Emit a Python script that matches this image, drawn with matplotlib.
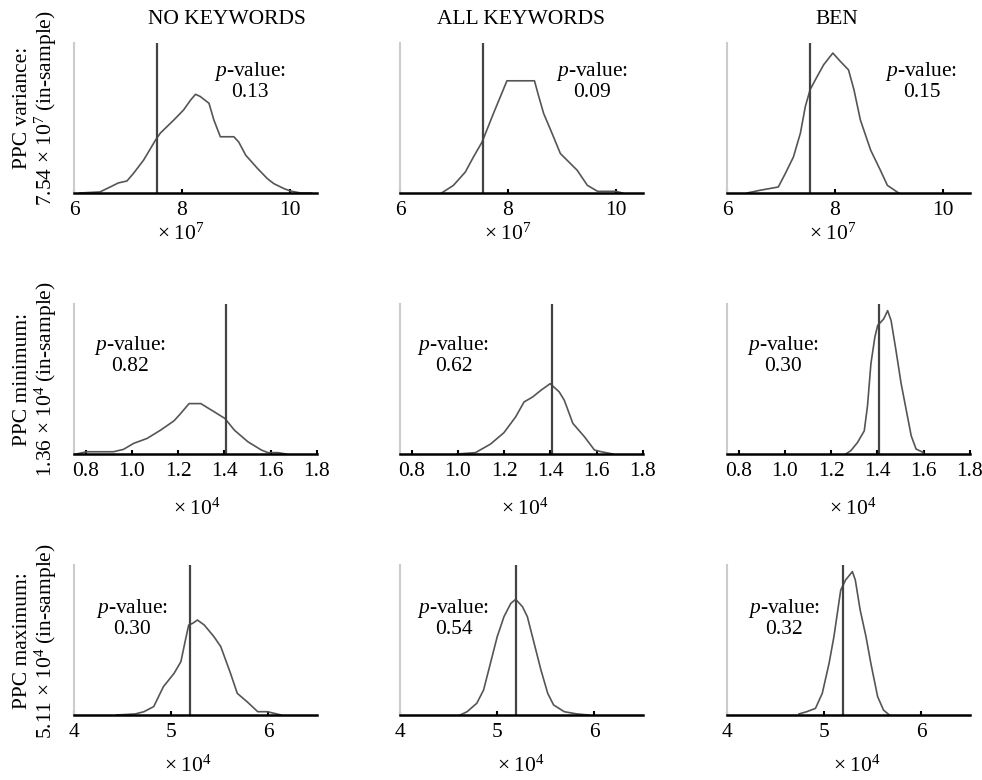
import numpy as np
import matplotlib
matplotlib.use("Agg")
import matplotlib.pyplot as plt

plt.rcParams["font.family"] = ["Liberation Serif", "DejaVu Serif"]
plt.rcParams["mathtext.fontset"] = "custom"
plt.rcParams["mathtext.rm"] = "Liberation Serif"
plt.rcParams["mathtext.it"] = "Liberation Serif:italic"

COLUMNS = ["NO KEYWORDS", "ALL KEYWORDS", "BEN"]
ROW_LABELS = [
    "PPC variance:\n7.54 × $10^{7}$ (in-sample)",
    "PPC minimum:\n1.36 × $10^{4}$ (in-sample)",
    "PPC maximum:\n5.11 × $10^{4}$ (in-sample)",
]
SCALE_LABELS = [r"$\times\;10^{7}$", r"$\times\;10^{4}$", r"$\times\;10^{4}$"]
XLIMS = [(6, 10.5), (0.75, 1.8), (4, 6.5)]
XTICKS = [[6, 8, 10], [0.8, 1.0, 1.2, 1.4, 1.6, 1.8], [4, 5, 6]]
XFMT = ["{:.0f}", "{:.1f}", "{:.0f}"]
OBSERVED = [7.54, 1.405, 5.19]

P_VALUES = [["0.13", "0.09", "0.15"],
            ["0.82", "0.62", "0.30"],
            ["0.30", "0.54", "0.32"]]

# posterior predictive distributions (x, relative density)
var_no_x = [6.1, 6.48, 6.67, 6.82, 6.98, 7.10, 7.29, 7.51, 7.60, 7.85, 8.03, 8.16, 8.25,
            8.34, 8.50, 8.59, 8.71, 8.96, 9.05, 9.18, 9.40, 9.58, 9.70, 9.89, 10.01, 10.20, 10.4]
var_no_y = [0.0, 0.007, 0.04, 0.067, 0.08, 0.13, 0.22, 0.353, 0.40, 0.487, 0.554, 0.62, 0.658,
            0.643, 0.598, 0.487, 0.375, 0.375, 0.34, 0.252, 0.163, 0.096, 0.0625, 0.029, 0.013, 0.0, 0.0]
var_all_x = [6.77, 6.99, 7.21, 7.36, 7.52, 7.73, 7.86, 7.98, 8.49, 8.57, 8.66, 8.79, 8.97,
             9.28, 9.47, 9.66, 10.0, 10.12]
var_all_y = [0.0, 0.051, 0.14, 0.24, 0.34, 0.53, 0.643, 0.748, 0.748, 0.643, 0.53, 0.42, 0.263,
             0.152, 0.051, 0.011, 0.011, 0.0]
var_ben_x = [6.37, 6.61, 6.95, 7.08, 7.23, 7.36, 7.45, 7.54, 7.67, 7.79, 7.96, 8.10, 8.25,
             8.35, 8.47, 8.66, 8.84, 8.97, 9.15, 9.18]
var_ben_y = [0.0, 0.018, 0.04, 0.13, 0.24, 0.40, 0.576, 0.69, 0.777, 0.855, 0.933, 0.877, 0.821,
             0.69, 0.487, 0.286, 0.152, 0.051, 0.007, 0.0]

min_no_x = [0.76, 0.805, 0.863, 0.921, 0.964, 1.008, 1.066, 1.124, 1.182, 1.211, 1.247, 1.298,
            1.356, 1.402, 1.443, 1.501, 1.559, 1.588, 1.631, 1.667]
min_no_y = [0.0, 0.015, 0.015, 0.015, 0.031, 0.071, 0.104, 0.159, 0.221, 0.27, 0.336, 0.336,
            0.281, 0.237, 0.159, 0.082, 0.027, 0.009, 0.009, 0.0]
min_all_x = [0.996, 1.076, 1.141, 1.199, 1.25, 1.286, 1.323, 1.359, 1.399, 1.438, 1.46, 1.497,
             1.547, 1.59, 1.62, 1.67]
min_all_y = [0.0, 0.009, 0.066, 0.142, 0.248, 0.347, 0.38, 0.425, 0.469, 0.414, 0.358, 0.204,
             0.115, 0.027, 0.015, 0.0]
min_ben_x = [1.263, 1.285, 1.314, 1.343, 1.357, 1.372, 1.389, 1.401, 1.427, 1.444, 1.459, 1.48,
             1.502, 1.524, 1.546, 1.567, 1.597, 1.60]
min_ben_y = [0.0, 0.022, 0.077, 0.154, 0.319, 0.604, 0.78, 0.857, 0.9, 0.956, 0.89, 0.692,
             0.473, 0.297, 0.121, 0.033, 0.011, 0.0]

max_no_x = [4.44, 4.63, 4.72, 4.82, 4.92, 5.03, 5.10, 5.15, 5.18, 5.22, 5.27, 5.34, 5.44, 5.51,
            5.61, 5.68, 5.78, 5.89, 5.99, 6.13]
max_no_y = [0.0, 0.007, 0.022, 0.056, 0.189, 0.278, 0.356, 0.511, 0.60, 0.611, 0.633, 0.60,
            0.522, 0.456, 0.278, 0.144, 0.089, 0.022, 0.022, 0.0]
max_all_x = [4.62, 4.69, 4.79, 4.86, 4.93, 5.0, 5.07, 5.14, 5.19, 5.26, 5.31, 5.38, 5.45, 5.52,
             5.58, 5.69, 5.82, 5.94]
max_all_y = [0.0, 0.022, 0.078, 0.167, 0.344, 0.522, 0.656, 0.744, 0.771, 0.722, 0.656, 0.478,
             0.30, 0.144, 0.067, 0.022, 0.007, 0.0]
max_ben_x = [4.74, 4.82, 4.91, 4.98, 5.05, 5.10, 5.17, 5.22, 5.29, 5.32, 5.37, 5.43, 5.48, 5.55,
             5.61, 5.67]
max_ben_y = [0.007, 0.022, 0.044, 0.144, 0.344, 0.522, 0.833, 0.90, 0.956, 0.90, 0.70, 0.522,
             0.344, 0.122, 0.033, 0.0]

CURVES = [
    [(var_no_x, var_no_y), (var_all_x, var_all_y), (var_ben_x, var_ben_y)],
    [(min_no_x, min_no_y), (min_all_x, min_all_y), (min_ben_x, min_ben_y)],
    [(max_no_x, max_no_y), (max_all_x, max_all_y), (max_ben_x, max_ben_y)],
]

W, H = 982, 780
AX_LEFT = [74, 400, 727]
AX_W = 243
AX_BOTTOM = [193, 454, 715]
AX_H = 150
PV_X = [[0.724, 0.79, 0.80], [0.23, 0.22, 0.23], [0.24, 0.22, 0.235]]
PV_Y = [0.745, 0.66, 0.647]
TITLE_X = [227, 521, 837]
YLAB_Y = [108, 379, 641]
SCALE_POS = [[(181, 234), (508, 234), (833, 234)],
             [(197, 509), (525, 509), (853, 509)],
             [(188, 766), (521, 766), (857, 766)]]

FS = 15.5

fig = plt.figure(figsize=(W / 100, H / 100), dpi=100)

for r in range(3):
    for c in range(3):
        ax = fig.add_axes([AX_LEFT[c] / W, 1 - AX_BOTTOM[r] / H, AX_W / W, AX_H / H])
        x, y = CURVES[r][c]
        ax.plot(x, y, color="#555555", lw=1.2)
        ax.axvline(OBSERVED[r], color="#444444", lw=1.6)
        ax.set_xlim(*XLIMS[r])
        ax.set_ylim(0, 1)
        ax.set_xticks(XTICKS[r])
        ax.set_xticklabels([XFMT[r].format(t) for t in XTICKS[r]], fontsize=FS)
        ax.set_yticks([])
        ax.tick_params(axis="x", direction="in", length=3, width=1.5, pad=6)
        for s in ("top", "right"):
            ax.spines[s].set_visible(False)
        ax.spines["left"].set_color("#cccccc")
        ax.spines["left"].set_linewidth(1.5)
        ax.spines["bottom"].set_color("black")
        ax.spines["bottom"].set_linewidth(1.8)
        ax.text(PV_X[r][c], PV_Y[r], "$p$-value:\n" + P_VALUES[r][c],
                transform=ax.transAxes, ha="center", va="center", fontsize=FS,
                multialignment="center", linespacing=1.0)
        sx, sy = SCALE_POS[r][c]
        fig.text(sx / W, 1 - sy / H, SCALE_LABELS[r], ha="center", va="center", fontsize=FS)

for c in range(3):
    fig.text(TITLE_X[c] / W, 1 - 20 / H, COLUMNS[c], ha="center", va="center", fontsize=FS)

for r in range(3):
    fig.text(36 / W, 1 - YLAB_Y[r] / H, ROW_LABELS[r], rotation=90, ha="center", va="center",
             fontsize=FS, multialignment="center", linespacing=1.0)

fig.savefig("out.png", dpi=100)
